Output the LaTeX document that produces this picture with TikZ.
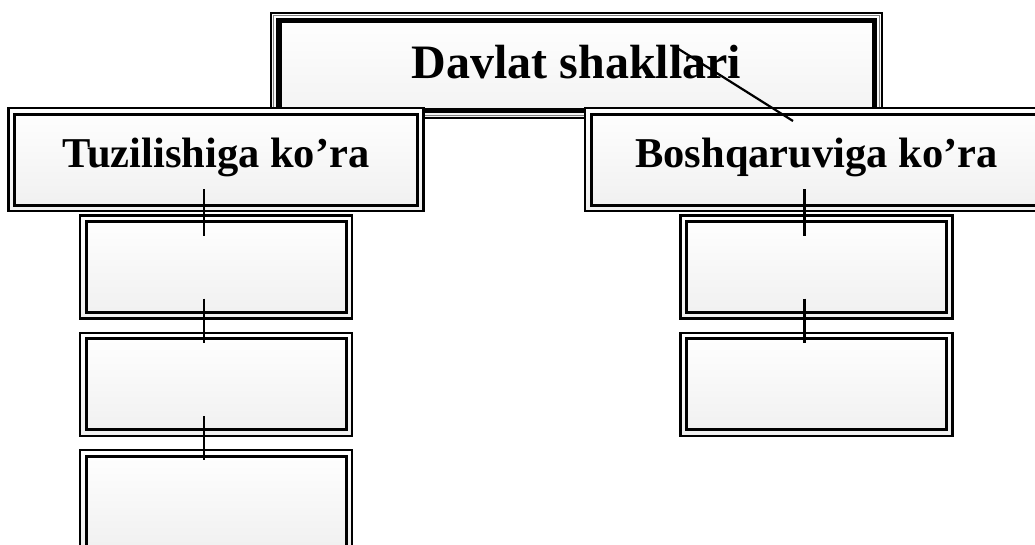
\documentclass[tikz,border=0pt]{standalone}
\usepackage{fontspec}
\setmainfont{Liberation Serif}
\usepackage{tikz}
\usetikzlibrary{positioning, calc}

\begin{document}
\begin{tikzpicture}[
    x=1pt, y=-1pt,
    node distance=12pt,
    titlebox/.style={rectangle, draw, line width=1.4pt, inner sep=0pt, top color=white, bottom color=black!5,
        minimum width=611pt, minimum height=105pt, text depth=7pt, font=\bfseries\fontsize{48}{56}\selectfont,
        path picture={
            \draw[gray, line width=1.4pt] ([shift={(2.7pt,-2.7pt)}]path picture bounding box.north west) rectangle ([shift={(-2.7pt,2.7pt)}]path picture bounding box.south east);
            \draw[line width=5.5pt] ([shift={(8pt,-7.5pt)}]path picture bounding box.north west) rectangle ([shift={(-7.5pt,7.5pt)}]path picture bounding box.south east);
        }},
    framebox/.style={rectangle, draw, line width=2.4pt, inner sep=0pt, top color=white, bottom color=black!6,
        minimum height=103pt, text depth=14pt, font=\bfseries\fontsize{42.5}{50}\selectfont,
        path picture={
            \draw[line width=3pt] ([shift={(6pt,-6pt)}]path picture bounding box.north west) rectangle ([shift={(-6pt,6pt)}]path picture bounding box.south east);
        }},
    levelbox/.style={framebox, minimum width=415pt},
    leafbox/.style={framebox, minimum width=272pt},
    link/.style={line width=2.8pt},
]
\clip (0,0) rectangle (1035,544);
\useasboundingbox (0,0) rectangle (1035,544);

% top
\node[titlebox] (davlat) at (576.5,65.5) {Davlat shakllari};

% second level
\node[levelbox] (tuzilish) at (216,159.5) {Tuzilishiga ko’ra};
\node[levelbox, minimum width=463pt] (boshqaruv) at (816.5,159.5) {Boshqaruviga ko’ra};

% empty boxes
\node[leafbox, below=2pt of tuzilish] (t1) {};
\node[leafbox, below=of t1] (t2) {};
\node[leafbox, below=of t2] (t3) {};
\node[leafbox, below=2pt of boshqaruv] (b1) {};
\node[leafbox, below=of b1] (b2) {};

% links
\draw[link] ([xshift=-12pt,yshift=23pt]tuzilish.south) -- ([xshift=-12pt,yshift=-22pt]t1.north);
\draw[link] ([xshift=-12pt,yshift=21pt]t1.south) -- ([xshift=-12pt,yshift=-11pt]t2.north);
\draw[link] ([xshift=-12pt,yshift=21pt]t2.south) -- ([xshift=-12pt,yshift=-11pt]t3.north);
\draw[link] ([xshift=-12pt,yshift=23pt]boshqaruv.south) -- ([xshift=-12pt,yshift=-22pt]b1.north);
\draw[link] ([xshift=-12pt,yshift=21pt]b1.south) -- ([xshift=-12pt,yshift=-11pt]b2.north);

% stray stroke over the title
\draw[line width=2.2pt] ([shift={(100.5pt,17.5pt)}]davlat.center) -- ([shift={(216.5pt,-55.5pt)}]davlat.center);
\end{tikzpicture}
\end{document}
